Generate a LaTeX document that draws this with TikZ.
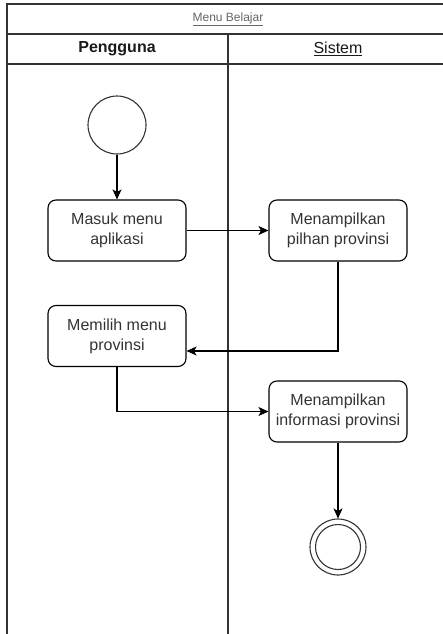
\documentclass[tikz,border=0pt]{standalone}
\usepackage{fontspec}
\setmainfont{Liberation Sans}
\usetikzlibrary{arrows.meta}

\begin{document}
\begin{tikzpicture}[x=1pt,y=-1pt,line width=1.1pt,
    >={Stealth[length=10pt,width=9pt,inset=2.5pt]},
    aksi/.style={draw,rounded corners=8pt,minimum width=138pt,minimum height=61pt,
      align=center,text=black!80,font=\fontsize{16}{20}\selectfont},
    awal/.style={draw,circle,minimum size=58pt,inner sep=0pt},
    judul/.style={font=\fontsize{16}{20}\selectfont,text=black!90}]
        \useasboundingbox (0,0) rectangle (443,634);

        % Swimlane frame
        \draw[black!80] (443,4) -- (7,4) -- (7,634);
        \draw[black!80] (7,34) -- (443,34);
        \draw[black!80] (7,64) -- (443,64);
        \draw[black!80] (228,34) -- (228,634);

        % Headers
        \node[font=\fontsize{12}{14}\selectfont,text=black!60] (title) at (228,19) {\underline{Menu Belajar}};
        \node[judul,font=\bfseries\fontsize{16}{20}\selectfont] (pengguna) at (117,49) {Pengguna};
        \node[judul] (sistem) at (338,49) {\underline{Sistem}};

        % Activities
        \node[awal,black!80] (start) at (117,125) {};
        \node[aksi] (masuk) at (117,230.5) {Masuk menu\\aplikasi};
        \node[aksi] (pilihan) at (338,230.5) {Menampilkan\\pilhan provinsi};
        \node[aksi] (pilih) at (117,336) {Memilih menu\\provinsi};
        \node[aksi] (info) at (338,411.5) {Menampilkan\\informasi provinsi};
        \node[awal,minimum size=56pt,black!80] (end) at (338,547) {};
        \draw[black!80] (end.center) circle (22.5pt);

        % Flow
        \draw[->] (start) -- (masuk);
        \draw[->] (masuk) -- (pilihan);
        \draw[->] (pilihan.south) |- ([yshift=-15pt]pilih.east);
        \draw[->] (pilih.south) |- (info.west);
        \draw[->] (info) -- (end);
\end{tikzpicture}
\end{document}
